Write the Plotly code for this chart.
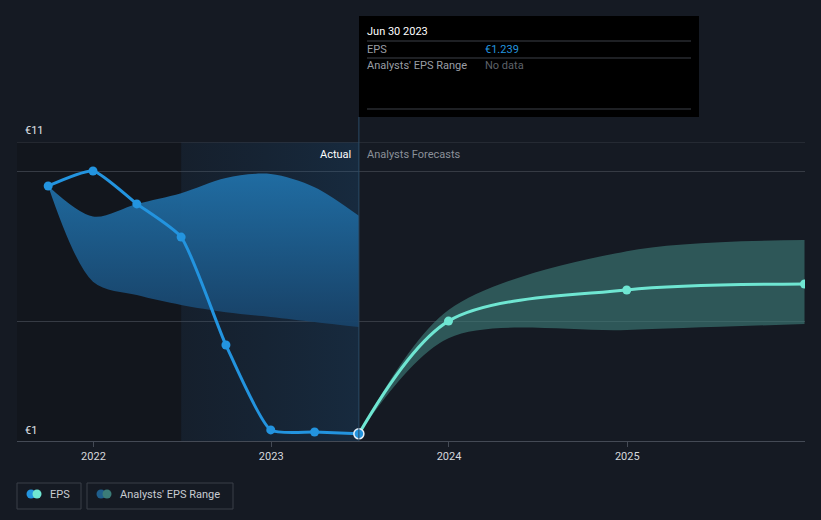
import plotly.graph_objects as go

# ---------------- data ----------------
actual_dates = ["2021-09-30", "2021-12-31", "2022-03-31", "2022-06-30",
                "2022-09-30", "2022-12-31", "2023-03-31", "2023-06-30"]
actual_eps = [9.53, 10.03, 8.93, 7.82, 4.21, 1.37, 1.30, 1.239]

past_range_dates = ["2021-09-30", "2021-12-31", "2022-03-31", "2022-06-30",
                    "2022-09-30", "2022-12-31", "2023-03-31", "2023-06-30"]
past_range_high = [9.53, 8.51, 8.93, 9.29, 9.80, 9.93, 9.49, 8.53]
past_range_low = [9.53, 6.33, 5.88, 5.55, 5.31, 5.15, 4.98, 4.81]

fc_dates = ["2023-06-30", "2023-12-31", "2024-12-31", "2025-12-31"]
fc_eps = [1.239, 5.01, 6.05, 6.25]
fc_high = [1.239, 5.38, 7.35, 7.72]
fc_low = [1.239, 4.44, 4.71, 4.91]

year_ticks = ["2022-01-01", "2023-01-01", "2024-01-01", "2025-01-01"]
year_labels = ["2022", "2023", "2024", "2025"]

x_range = ["2021-07-28", "2026-01-01"]
y_range = [1, 11]

BG = "#151a23"
FONT = "Roboto"
BLUE = "#2394df"
TEAL = "#6fe6d2"


def px(x):
    return (x - 17) / 788


def py(y):
    return (441 - y) / 299


fig = go.Figure()

# highlighted "last year" region (gradient)
fig.add_trace(go.Scatter(
    x=["2022-06-30", "2023-06-30", "2023-06-30", "2022-06-30", "2022-06-30"],
    y=[y_range[0], y_range[0], 11, 11, y_range[0]],
    mode="lines", line=dict(width=0), fill="toself",
    fillgradient=dict(type="horizontal",
                      colorscale=[[0, "rgba(25,80,130,0.10)"], [1, "rgba(30,100,160,0.22)"]]),
    hoverinfo="skip", showlegend=False))

# past analyst range band
fig.add_trace(go.Scatter(x=past_range_dates, y=past_range_low, mode="lines",
                         line=dict(width=0, shape="spline", smoothing=0.9),
                         hoverinfo="skip", showlegend=False))
fig.add_trace(go.Scatter(x=past_range_dates, y=past_range_high, mode="lines",
                         line=dict(width=0, shape="spline", smoothing=0.9),
                         fill="tonexty",
                         fillgradient=dict(type="vertical",
                                           colorscale=[[0, "rgba(24,66,104,0.95)"], [1, "rgba(32,112,168,0.95)"]]),
                         hoverinfo="skip", showlegend=False))

# forecast range band
fig.add_trace(go.Scatter(x=fc_dates, y=fc_low, mode="lines",
                         line=dict(width=0, shape="spline", smoothing=0.9),
                         hoverinfo="skip", showlegend=False))
fig.add_trace(go.Scatter(x=fc_dates, y=fc_high, mode="lines",
                         line=dict(width=0, shape="spline", smoothing=0.9),
                         fill="tonexty", fillcolor="rgba(64,129,123,0.6)",
                         hoverinfo="skip", showlegend=False))

# forecast EPS line
fig.add_trace(go.Scatter(x=fc_dates, y=fc_eps, mode="lines+markers",
                         line=dict(color=TEAL, width=3, shape="spline", smoothing=0.9),
                         marker=dict(color=TEAL, size=9),
                         hoverinfo="skip", showlegend=False))

# actual EPS line
fig.add_trace(go.Scatter(x=actual_dates, y=actual_eps, mode="lines+markers",
                         line=dict(color=BLUE, width=3, shape="spline", smoothing=0.55),
                         marker=dict(color=BLUE, size=9),
                         hoverinfo="skip", showlegend=False))

# highlighted last point
fig.add_trace(go.Scatter(x=[actual_dates[-1]], y=[actual_eps[-1]], mode="markers",
                         marker=dict(color=BLUE, size=10, line=dict(color="#e8f0f8", width=1.5)),
                         hoverinfo="skip", showlegend=False))

shapes = []
# darker area before the highlighted year
shapes.append(dict(type="rect", xref="x", yref="paper", x0=x_range[0], x1="2022-06-30",
                   y0=0, y1=1, fillcolor="#12161d", line=dict(width=0), layer="below"))
# top gridline
shapes.append(dict(type="line", xref="paper", yref="y", x0=0, x1=1, y0=11, y1=11,
                   line=dict(color="#363b44", width=1)))
# vertical "today" line
shapes.append(dict(type="line", xref="x", yref="paper", x0="2023-06-30", x1="2023-06-30",
                   y0=0, y1=py(117), line=dict(color="#2b4a66", width=1)))
# tooltip box
shapes.append(dict(type="rect", xref="paper", yref="paper", x0=px(359), x1=px(699),
                   y0=py(117), y1=py(16), fillcolor="#000000", line=dict(width=0)))
for yy in (41, 58, 109):
    shapes.append(dict(type="line", xref="paper", yref="paper", x0=px(367), x1=px(691),
                       y0=py(yy), y1=py(yy), line=dict(color="#3d4148", width=1)))
# legend boxes
for x0, x1 in ((17, 81), (87, 233)):
    shapes.append(dict(type="rect", xref="paper", yref="paper", x0=px(x0), x1=px(x1),
                       y0=py(509), y1=py(483), fillcolor="rgba(0,0,0,0)",
                       line=dict(color="#3a3f48", width=1)))
# legend icons
for cx, col in ((31, BLUE), (37, TEAL), (101, "#1f5e8c"), (107, "#3b7c78")):
    shapes.append(dict(type="circle", xref="paper", yref="paper",
                       x0=px(cx - 4.5), x1=px(cx + 4.5), y0=py(498.5), y1=py(489.5),
                       fillcolor=col, line=dict(width=0)))

annotations = []


def txt(x, y, s, color, size=11, anchor="left"):
    annotations.append(dict(xref="paper", yref="paper", x=px(x), y=py(y), text=s,
                            showarrow=False, xanchor=anchor, yanchor="middle",
                            borderpad=0, borderwidth=0,
                            font=dict(family=FONT, size=size, color=color)))


txt(25, 130, "€11", "#e0e3e8", 11)
txt(25, 430, "€1", "#e0e3e8", 11)
txt(351, 154, "Actual", "#ffffff", 11, "right")
txt(367, 154, "Analysts Forecasts", "#8b9099", 11)
txt(367, 31, "Jun 30 2023", "#ffffff", 11)
txt(367, 49, "EPS", "#9a9ea5", 11)
txt(485, 49, "€1.239", BLUE, 11)
txt(367, 66, "Analysts' EPS Range", "#9a9ea5", 11)
txt(485, 66, "No data", "#5e6269", 11)
txt(50, 494, "EPS", "#c8ccd2", 11)
txt(120, 494, "Analysts' EPS Range", "#c8ccd2", 11)

fig.update_layout(
    width=821, height=520,
    margin=dict(l=17, r=16, t=142, b=79),
    paper_bgcolor=BG, plot_bgcolor=BG,
    showlegend=False,
    shapes=shapes, annotations=annotations,
    hovermode=False,
    xaxis=dict(type="date", range=x_range, tickvals=year_ticks, ticktext=year_labels,
               showgrid=False, zeroline=False, showline=True, linecolor="#444a55", linewidth=1,
               ticks="outside", ticklen=5, tickcolor="#444a55",
               tickfont=dict(family=FONT, size=11, color="#d5d8dd")),
    yaxis=dict(range=y_range, tickvals=[5, 10], showticklabels=False,
               showgrid=True, gridcolor="#363b44", gridwidth=1, zeroline=False,
               showline=False, ticks=""),
)

fig.write_html("out.html")
